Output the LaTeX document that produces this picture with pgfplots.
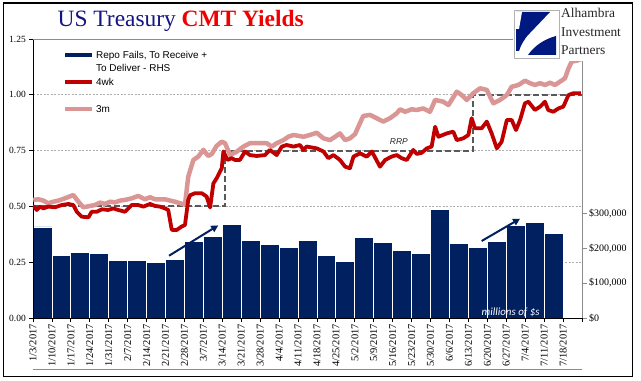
\documentclass[border=0pt]{standalone}
\usepackage{pgfplots}
\pgfplotsset{compat=1.18}
\usepackage{fontspec}
\setmainfont{Liberation Serif}
\newfontfamily\arial{Liberation Sans}
\newfontfamily\calibri{Carlito}
\usetikzlibrary{arrows.meta}
\definecolor{navyc}{RGB}{0,32,96}
\definecolor{redc}{RGB}{192,0,0}
\definecolor{pinkc}{RGB}{218,150,148}
\definecolor{titleblue}{RGB}{20,20,130}
\definecolor{titlered}{RGB}{240,0,0}
\definecolor{rrpgray}{RGB}{89,89,89}
\definecolor{gridgray}{RGB}{175,175,175}
\definecolor{axgray}{RGB}{140,140,140}

\pgfplotstableread{
x y
3.5 261000
10.5 180000
17.5 187000
24.5 184000
31.5 166000
38.5 166000
45.5 159000
52.5 169000
59.5 220000
66.5 234000
73.5 267000
80.5 223000
87.5 211000
94.5 203000
101.5 223000
108.5 180000
115.5 163000
122.5 231000
129.5 217000
136.5 194000
143.5 186000
150.5 311000
157.5 214000
164.5 203000
171.5 220000
178.5 266000
185.5 274000
192.5 243000
}\fails

\pgfplotstableread{
x y
0.1 0.529
2.0 0.532
3.8 0.526
5.7 0.514
7.5 0.521
9.4 0.526
11.8 0.536
14.9 0.551
16.8 0.521
18.6 0.496
21.1 0.502
22.9 0.506
24.8 0.517
26.6 0.511
28.5 0.521
30.3 0.518
32.2 0.526
34.0 0.529
36.5 0.536
38.9 0.547
41.4 0.532
43.3 0.541
45.1 0.532
48.8 0.532
50.7 0.526
52.5 0.521
55.0 0.512
56.2 0.508
57.4 0.633
59.3 0.708
61.1 0.723
63.0 0.753
64.8 0.726
66.1 0.735
67.9 0.771
69.8 0.790
71.0 0.783
72.9 0.730
75.3 0.745
77.8 0.768
80.2 0.783
83.9 0.783
86.4 0.783
88.3 0.768
90.1 0.783
92.6 0.797
94.4 0.812
96.3 0.820
100.0 0.812
102.4 0.820
104.9 0.830
107.4 0.805
109.8 0.797
111.7 0.812
113.5 0.827
115.4 0.797
117.2 0.805
119.1 0.824
120.3 0.857
122.1 0.905
124.6 0.910
127.1 0.895
129.5 0.880
132.0 0.895
134.5 0.917
135.7 0.935
137.6 0.924
140.0 0.935
141.9 0.932
144.3 0.939
146.8 0.924
148.7 0.977
151.7 0.969
153.6 0.954
156.7 1.014
158.5 0.999
160.4 0.977
162.8 1.007
165.3 1.029
167.8 1.022
170.2 0.962
172.7 0.977
175.2 0.999
177.0 1.036
179.5 1.044
181.9 1.063
183.8 1.052
185.6 1.044
187.5 1.052
189.3 1.044
191.2 1.054
193.0 1.044
194.9 1.059
196.7 1.074
198.0 1.118
199.2 1.149
201.1 1.153
202.6 1.160
}\threem

\pgfplotstableread{
x y
0.1 0.502
1.4 0.484
2.6 0.499
3.8 0.491
5.7 0.499
8.1 0.496
10.6 0.506
13.1 0.511
14.9 0.506
16.2 0.476
18.0 0.454
20.5 0.451
21.7 0.476
23.6 0.476
25.4 0.487
27.8 0.484
29.7 0.491
31.5 0.484
34.0 0.476
36.5 0.506
38.9 0.506
40.8 0.499
43.3 0.511
45.1 0.502
47.0 0.499
48.8 0.491
50.0 0.484
51.3 0.395
53.1 0.394
55.0 0.410
56.2 0.417
57.4 0.529
58.1 0.550
59.9 0.559
62.4 0.559
64.2 0.544
65.5 0.495
66.7 0.603
67.9 0.626
69.8 0.671
70.4 0.746
71.9 0.708
73.5 0.716
74.7 0.708
76.5 0.708
78.4 0.746
80.2 0.730
82.7 0.726
85.8 0.730
87.6 0.753
90.1 0.730
92.0 0.768
93.8 0.775
96.3 0.768
98.7 0.775
100.0 0.753
101.2 0.768
104.9 0.760
107.4 0.746
109.2 0.716
111.1 0.730
113.5 0.708
115.4 0.678
117.2 0.671
118.5 0.723
120.9 0.738
123.4 0.723
125.3 0.746
128.3 0.678
130.2 0.708
132.6 0.723
134.5 0.730
136.3 0.716
138.2 0.708
140.6 0.753
141.9 0.735
143.7 0.740
145.6 0.760
147.4 0.768
148.7 0.857
149.9 0.812
153.0 0.827
155.4 0.835
156.7 0.797
159.1 0.805
161.0 0.820
162.2 0.895
163.4 0.850
165.9 0.850
167.8 0.880
169.6 0.827
171.5 0.760
173.3 0.790
175.2 0.887
177.0 0.887
178.6 0.842
180.1 0.887
181.9 0.962
183.2 0.969
185.6 0.932
187.5 0.947
189.3 0.969
190.5 0.932
192.4 0.924
194.3 0.939
196.1 0.947
198.0 0.999
199.8 1.007
202.6 1.007
}\fourwk

\begin{document}
\begin{tikzpicture}
\useasboundingbox (0,0) rectangle (641bp,381bp);
\fill[white] (0,0) rectangle (641bp,381bp);

% ---------- bars, right axis ----------
\begin{axis}[
  at={(33bp,63bp)}, anchor=south west,
  scale only axis, width=549bp, height=279bp,
  xmin=0, xmax=203, ymin=0, ymax=800000,
  axis x line=none,
  axis y line*=right,
  y axis line style={draw=axgray, line width=0.8bp, -},
  ytick={0,100000,200000,300000},
  yticklabels={{\$0},{\$100,000},{\$200,000},{\$300,000}},
  yticklabel style={font=\fontsize{10}{12}\selectfont, inner sep=2bp},
  ytick style={draw=axgray, line width=0.8bp},
  tick align=outside, major tick length=5bp,
  extra y ticks={160000,320000,480000,640000},
  extra y tick labels={},
  extra y tick style={grid=major, major tick length=0pt},
  major grid style={gridgray, line width=0.6bp, dash pattern=on 2bp off 1.5bp},
  ybar, bar width=7,
]
\addplot[fill=navyc, draw=white, line width=0.8bp] table[x=x,y=y] {\fails};
\end{axis}

% ---------- yields, left axis ----------
\begin{axis}[
  at={(33bp,63bp)}, anchor=south west,
  scale only axis, width=549bp, height=279bp,
  xmin=0, xmax=203, ymin=0, ymax=1.25,
  axis x line*=bottom, axis y line*=left,
  axis line style={black, line width=0.8bp, -},
  clip mode=individual,
  xtick={0,7,...,203},
  xticklabels={1/3/2017,1/10/2017,1/17/2017,1/24/2017,1/31/2017,2/7/2017,2/14/2017,2/21/2017,2/28/2017,3/7/2017,3/14/2017,3/21/2017,3/28/2017,4/4/2017,4/11/2017,4/18/2017,4/25/2017,5/2/2017,5/9/2017,5/16/2017,5/23/2017,5/30/2017,6/6/2017,6/13/2017,6/20/2017,6/27/2017,7/4/2017,7/11/2017,7/18/2017,{}},
  xticklabel style={rotate=90, anchor=east, font=\fontsize{10.5}{12}\selectfont, inner sep=2bp},
  ytick={0,0.25,0.5,0.75,1,1.25},
  yticklabels={0.00,0.25,0.50,0.75,1.00,1.25},
  yticklabel style={font=\fontsize{9.5}{11}\selectfont, inner sep=3bp},
  tick align=outside, major tick length=4bp,
  tick style={black, line width=0.8bp},
  legend cell align=left,
  legend style={at={(0.055,0.9645)}, anchor=north west, draw=none, fill=none,
    inner sep=0pt, outer sep=0pt, row sep=0pt, column sep=2bp,
    font=\arial\fontsize{10}{12}\selectfont,
    nodes={inner sep=0pt, text height=9.5bp, text depth=4bp},
    cells={anchor=west}},
]
\addplot[rrpgray, line width=2bp, dash pattern=on 6bp off 3bp, forget plot]
  coordinates {(0,0.5) (71.0,0.5) (71.0,0.75) (162.8,0.75) (162.8,1.0) (203,1.0)};
\addplot[pinkc, line width=4.5bp, line join=round, forget plot] table[x=x,y=y] {\threem};
\addplot[redc, line width=3.8bp, line join=round, forget plot] table[x=x,y=y] {\fourwk};

\addlegendimage{legend image code/.code={\draw[navyc, line width=4bp] (0bp,0.85bp) -- (27bp,0.85bp);}}
\addlegendentry{Repo Fails, To Receive +}
\addlegendimage{empty legend}
\addlegendentry{To Deliver - RHS}
\addlegendimage{legend image code/.code={\draw[redc, line width=3.5bp] (0bp,0.85bp) -- (27bp,0.85bp);}}
\addlegendentry{4wk}
\addlegendimage{empty legend}
\addlegendentry{\mbox{}}
\addlegendimage{legend image code/.code={\draw[pinkc, line width=4bp] (0bp,0.85bp) -- (27bp,0.85bp);}}
\addlegendentry{3m}

\draw[navyc, line width=2bp, -{Triangle[length=7bp,width=7bp]}] (axis cs:50.3,0.279) -- (axis cs:68.5,0.415);
\draw[navyc, line width=2bp, -{Triangle[length=7bp,width=7bp]}] (axis cs:165.9,0.345) -- (axis cs:180.1,0.445);
\node[font=\arial\itshape\fontsize{8.5}{10}\selectfont, text=black!85] at (axis cs:135.3,0.789) {RRP};
\node[font=\calibri\itshape\fontsize{11}{12}\selectfont, text=white] at (axis cs:176.6,0.027) {millions of \$s};
\draw[axgray, line width=0.8bp] (axis cs:0,1.25) -- (axis cs:203,1.25);
\draw[axgray, line width=0.8bp] (rel axis cs:0,-0.183) -- (rel axis cs:1,-0.183);
\end{axis}

% ---------- title ----------
\node[anchor=base west, inner sep=0pt, font=\fontsize{23.5}{26}\selectfont] at (57.5bp,354bp)
  {\textcolor{titleblue}{US Treasury} \textcolor{titlered}{\bfseries CMT Yields}};

% ---------- logo ----------
\fill[white] (513bp,320bp) rectangle (636bp,376bp);
\draw[gray!60, line width=0.5bp] (514bp,323bp) rectangle (559bp,371bp);
\fill[navyc!80!blue] (522bp,369bp) -- (550bp,369bp) -- (530bp,348bp) .. controls (524bp,342bp) and (521bp,336bp) .. (519bp,330bp) -- (516bp,330bp) -- (516bp,369bp) -- cycle;
\fill[white] (516bp,369bp) -- (522bp,369bp) -- (519bp,352bp) -- (516bp,352bp) -- cycle;
\fill[navyc!80!blue] (556bp,326bp) -- (528bp,326bp) .. controls (535bp,336bp) and (545bp,342bp) .. (556bp,345bp) -- cycle;
\node[anchor=base west, inner sep=0pt, font=\fontsize{13.5}{16}\selectfont, text=black!85] at (561bp,363.5bp) {Alhambra};
\node[anchor=base west, inner sep=0pt, font=\fontsize{13.5}{16}\selectfont, text=black!85] at (561bp,344bp) {Investment};
\node[anchor=base west, inner sep=0pt, font=\fontsize{13.5}{16}\selectfont, text=black!85] at (561bp,326bp) {Partners};

% ---------- frame ----------
\draw[black, line width=1.5bp] (3.5bp,4.5bp) rectangle (632.5bp,378bp);
\end{tikzpicture}
\end{document}
